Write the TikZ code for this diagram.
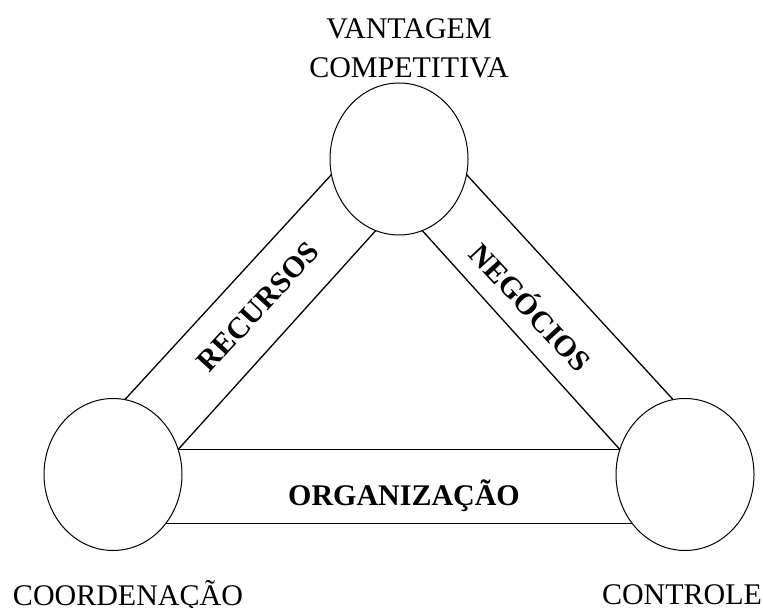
\documentclass[tikz,border=0pt]{standalone}
\usepackage{fontspec}
\setmainfont{Liberation Serif}
\usetikzlibrary{shapes.geometric,positioning,calc}
\tikzset{
  ring/.style={ellipse,draw,line width=0.5pt,minimum width=69pt,minimum height=76pt,inner sep=0pt,outer sep=0pt},
  bandline/.style={line width=0.65pt},
  cornertext/.style={font=\fontsize{15}{19.5}\selectfont,inner sep=0pt,align=center},
  bandtext/.style={font=\fontsize{15}{18}\selectfont\bfseries,inner sep=0pt}
}

\begin{document}
\begin{tikzpicture}[x=0.5pt,y=-0.5pt]
      \useasboundingbox (0,0) rectangle (763,608);
      \node[ring] (vc) at (399,159) {};
      \node[ring] (co) at (113,474.5) {};
      \node[ring] (ct) at (685,474.5) {};
      % the three bands
      \draw[bandline] (vc.193) -- (co.81);
      \draw[bandline] (vc.252) -- (co.21);
      \draw[bandline] (vc.347) -- (ct.99);
      \draw[bandline] (vc.288) -- (ct.159);
      \draw[bandline] (co.21) -- (ct.159);
      \draw[bandline] (co.317) -- (ct.223);
      \node[bandtext,rotate=47.4] (rec) at (258,307) {RECURSOS};
      \node[bandtext,rotate=-47.4] (neg) at (532,306) {NEGÓCIOS};
      \node[bandtext,anchor=base] (org) at (404,505) {ORGANIZAÇÃO};
      \node[cornertext,anchor=south] (vclbl) at (409,78) {VANTAGEM\\COMPETITIVA};
      \node[cornertext,anchor=base] (colbl) at (128,605) {COORDENAÇÃO};
      \node[cornertext,anchor=base] (ctlbl) at (682,604) {CONTROLE};
    \end{tikzpicture}
\end{document}
